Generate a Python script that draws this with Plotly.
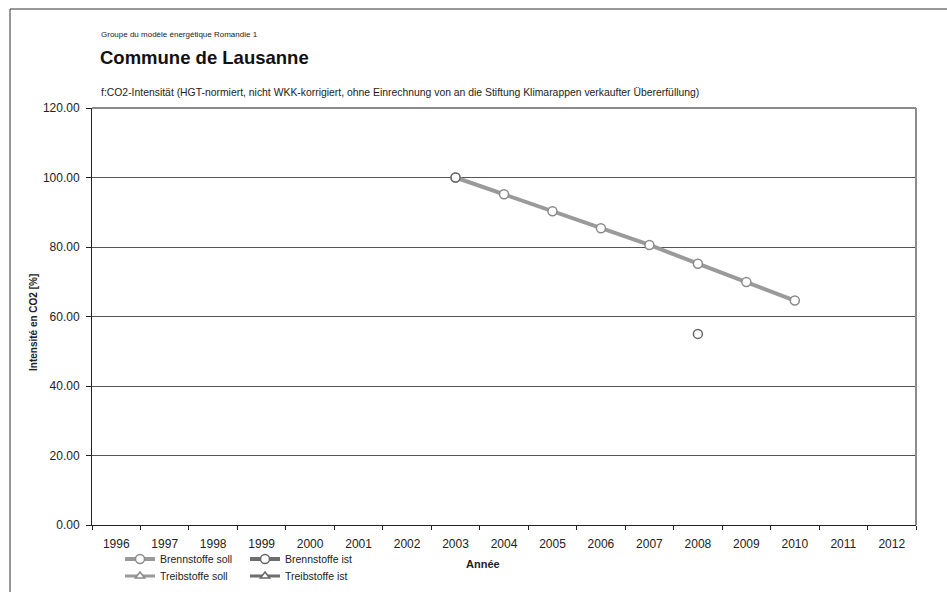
import plotly.graph_objects as go

# Data
years = [str(y) for y in range(1996, 2013)]
brenn_soll = [None] * 7 + [100.0, 95.2, 90.3, 85.4, 80.6, 75.2, 69.9, 64.6] + [None] * 2
brenn_ist = [None] * 7 + [100.0, None, None, None, None, 55.0, None, None] + [None] * 2
treib_soll = [None] * 17
treib_ist = [None] * 17

W, H = 947, 592
L, R, T, B = 92, 916, 108, 525  # plot area in pixels


def px_x(px):
    return (px - L) / (R - L)


def px_y(py):
    return (B - py) / (B - T)


FONT = "Arial, Liberation Sans, sans-serif"

fig = go.Figure()

fig.add_trace(go.Scatter(
    x=years, y=brenn_soll, name="Brennstoffe soll", mode="lines+markers",
    line=dict(color="#9a9a9a", width=4),
    marker=dict(symbol="circle", size=9, color="white", line=dict(color="#8a8a8a", width=1.5)),
    connectgaps=False, legend="legend",
))
fig.add_trace(go.Scatter(
    x=years, y=brenn_ist, name="Brennstoffe ist", mode="lines+markers",
    line=dict(color="#6e6e6e", width=4),
    marker=dict(symbol="circle", size=9, color="white", line=dict(color="#666666", width=1.5)),
    connectgaps=False, legend="legend",
))
fig.add_trace(go.Scatter(
    x=years, y=treib_soll, name="Treibstoffe soll", mode="lines+markers",
    line=dict(color="#9a9a9a", width=3),
    marker=dict(symbol="triangle-up", size=8, color="white", line=dict(color="#8a8a8a", width=1.5)),
    legend="legend2",
))
fig.add_trace(go.Scatter(
    x=years, y=treib_ist, name="Treibstoffe ist", mode="lines+markers",
    line=dict(color="#6e6e6e", width=3),
    marker=dict(symbol="triangle-up", size=8, color="white", line=dict(color="#666666", width=1.5)),
    legend="legend2",
))

legend_common = dict(
    orientation="h", xanchor="left", yanchor="middle",
    font=dict(family=FONT, size=10.5, color="#222"),
    bgcolor="rgba(0,0,0,0)", entrywidth=80, entrywidthmode="pixels",
    itemwidth=30, tracegroupgap=0,
)

fig.update_layout(
    width=W, height=H, autosize=False,
    margin=dict(l=L, r=W - R, t=T, b=H - B, pad=0, autoexpand=False),
    paper_bgcolor="white", plot_bgcolor="white",
    font=dict(family=FONT, size=12, color="#222"),
    legend=dict(x=px_x(120), y=px_y(559), **legend_common),
    legend2=dict(x=px_x(120), y=px_y(576), **legend_common),
    xaxis=dict(
        type="category", categoryorder="array", categoryarray=years,
        range=[-0.5, len(years) - 0.5],
        showgrid=False, tickson="boundaries", ticks="outside", ticklen=4,
        tickcolor="#222", showline=True, linecolor="#222", linewidth=1,
        mirror=False, tickfont=dict(size=12, color="#222"),
        ticklabelstandoff=8, zeroline=False, automargin=False,
    ),
    yaxis=dict(
        range=[0, 120], dtick=20, tickformat=".2f",
        showgrid=True, gridcolor="#555", gridwidth=1,
        ticks="outside", ticklen=5, tickcolor="#222",
        showline=True, linecolor="#222", linewidth=1,
        tickfont=dict(size=12, color="#222"), ticklabelstandoff=4,
        zeroline=False, automargin=False,
    ),
    shapes=[
        # frame around whole chart (extends beyond the page edges)
        dict(type="rect", xref="paper", yref="paper",
             x0=px_x(10), x1=px_x(960), y0=px_y(610), y1=px_y(9),
             line=dict(color="#333", width=1), layer="below"),
        # top and right edges of the plot area
        dict(type="line", xref="paper", yref="paper", x0=0, x1=1, y0=1, y1=1,
             line=dict(color="#8c8c8c", width=2)),
        dict(type="line", xref="paper", yref="paper", x0=1, x1=1, y0=0, y1=1,
             line=dict(color="#8c8c8c", width=2)),
    ],
    annotations=[
        dict(text="Groupe du modèle énergétique Romandie 1", x=px_x(99), y=px_y(35),
             xref="paper", yref="paper", xanchor="left", yanchor="middle",
             showarrow=False, font=dict(size=8, color="#222")),
        dict(text="<b>Commune de Lausanne</b>", x=px_x(98), y=px_y(57),
             xref="paper", yref="paper", xanchor="left", yanchor="middle",
             showarrow=False, font=dict(size=18.5, color="#111")),
        dict(text="f:CO2-Intensität (HGT-normiert, nicht WKK-korrigiert, ohne Einrechnung von an die Stiftung Klimarappen verkaufter Übererfüllung)",
             x=px_x(99), y=px_y(92), xref="paper", yref="paper",
             xanchor="left", yanchor="middle", showarrow=False,
             font=dict(size=10.4, color="#222")),
        dict(text="<b>Intensité en CO2 [%]</b>", x=px_x(33), y=px_y(323),
             xref="paper", yref="paper", xanchor="center", yanchor="middle",
             textangle=-90, showarrow=False, font=dict(size=10, color="#222")),
        dict(text="<b>Année</b>", x=px_x(483), y=px_y(564),
             xref="paper", yref="paper", xanchor="center", yanchor="middle",
             showarrow=False, font=dict(size=11, color="#222")),
    ],
)

fig.write_html("out.html")
